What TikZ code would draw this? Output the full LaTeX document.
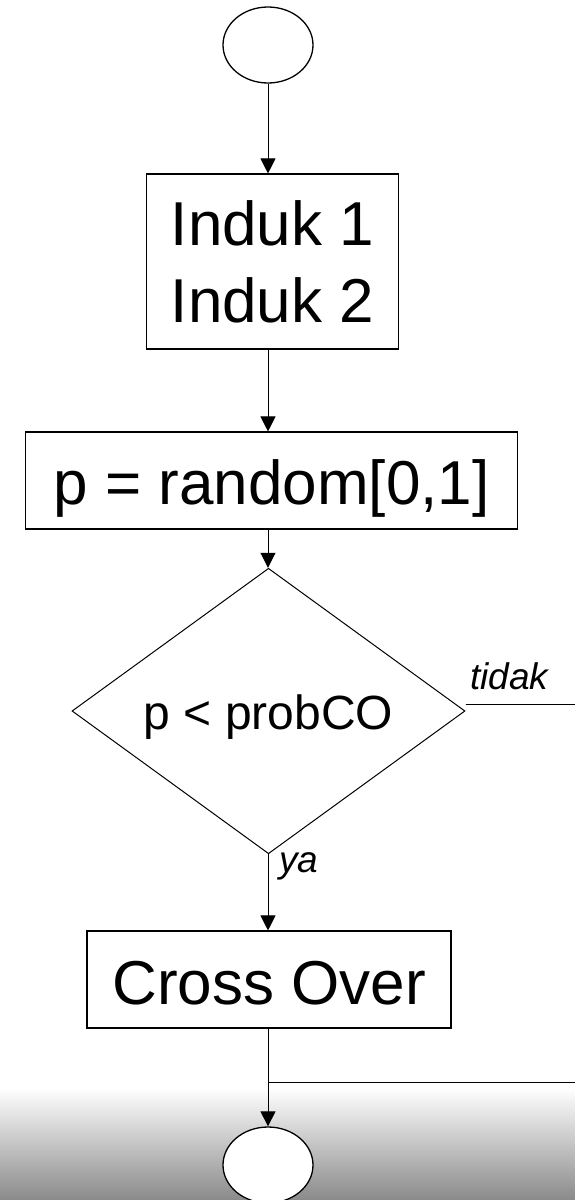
\documentclass[tikz,border=0pt]{standalone}
\usepackage{fontspec}
\setmainfont{Liberation Sans}
\usetikzlibrary{shapes.geometric,arrows.meta}
\begin{document}
\begin{tikzpicture}[x=1pt,y=-1pt,
  box/.style={draw, line width=1.1pt, fill=white, inner sep=0pt, font=\fontsize{62}{77}\selectfont},
  term/.style={draw, ellipse, line width=1.3pt, fill=white, minimum width=90pt, minimum height=76pt, inner sep=0pt},
  dec/.style={draw, diamond, line width=1pt, inner sep=0pt, font=\fontsize{48}{58}\selectfont},
  lbl/.style={font=\fontsize{37}{44}\selectfont\itshape, anchor=base west, inner sep=0pt},
  arr/.style={line width=1pt, -{Triangle[length=15pt,width=15pt]}},
  ln/.style={line width=1pt}]
\fill[white] (0,0) rectangle (575,1200);
\useasboundingbox (0,0) rectangle (575,1200);
\shade[top color=white, bottom color={rgb,255:red,138;green,138;blue,138}] (0,1088) rectangle (575,1200);
\node[term] (start) at (268,45) {};
\node[box, minimum width=252pt, minimum height=175pt, align=center] (induk) at (272.5,261.5) {Induk 1\\Induk 2};
\node[box, minimum width=492pt, minimum height=97pt, text height=47pt, text depth=0pt] (rand) at (271.7,480.5) {p = random[0,1]};
\node[dec, minimum width=393pt, minimum height=226pt, text height=36pt, text depth=0pt] (cond) at (268.5,711) {p < probCO};
\node[box, minimum width=364pt, minimum height=97pt, text height=49pt, text depth=0pt] (co) at (269,979.5) {Cross Over};
\node[term] (end) at (268,1165) {};
\coordinate (noexit) at (575,704);
\coordinate (join) at (575,1082);
\node[lbl] (tidak) at (470,689) {tidak};
\node[lbl] (ya) at (279,872) {ya};
\draw[arr] (start.south) -- (induk.north -| start.south);
\draw[arr] (induk.south -| start.south) -- (rand.north -| start.south);
\draw[arr] (rand.south -| start.south) -- (cond.north -| start.south);
\draw[arr] (cond.south -| start.south) -- (co.north -| start.south);
\draw[arr] (co.south -| start.south) -- (end.north);
\draw[ln] (join -| start.south) -- (join);
\draw[ln] (cond.east |- noexit) -- (noexit);
\end{tikzpicture}
\end{document}
